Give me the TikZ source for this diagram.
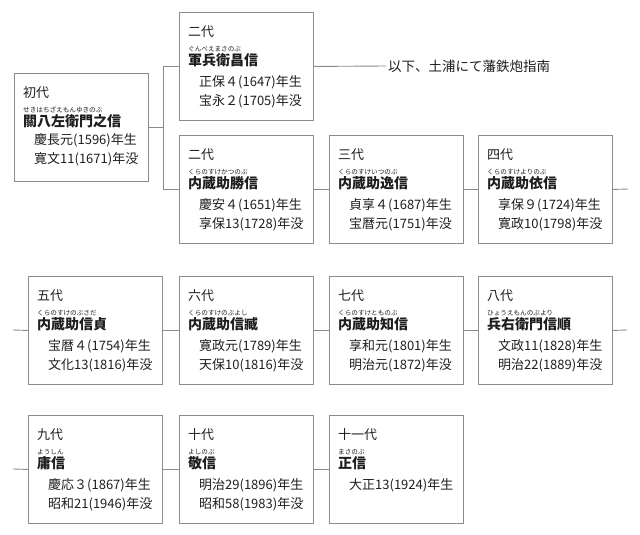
\documentclass[tikz,border=0pt]{standalone}
\usepackage{fontspec}
\setmainfont{Noto Sans CJK JP}
\definecolor{edge}{HTML}{8C8C8C}
\definecolor{ink}{HTML}{1E1E1E}
\tikzset{
  box/.style={draw=edge, line width=0.9pt, minimum width=134pt, minimum height=108pt, inner sep=0pt, anchor=north west},
  gen/.style={anchor=west, inner sep=0pt, font=\fontsize{13}{15}\selectfont, text=ink},
  ruby/.style={anchor=west, inner sep=0pt, font=\fontsize{6.6}{7}\selectfont, text=ink},
  nm/.style={anchor=west, inner sep=0pt, font=\bfseries\fontsize{14}{16}\selectfont, text=ink},
  dt/.style={anchor=west, inner sep=0pt, font=\fontsize{13}{15}\selectfont, text=ink},
  note/.style={anchor=west, inner sep=2pt, font=\fontsize{13.5}{15}\selectfont, text=ink},
  link/.style={draw=edge, line width=0.9pt},
}
\def\dOffA{70}
\def\dOffB{89}
% #1 name, #2 x, #3 y, #4 generation, #5 ruby, #6 name, #7 born, #8 died
\newcommand\famBox[8]{%
  \node[box] (#1) at (#2,#3) {};
  \node[gen] (#1-g) at ([xshift=9pt,yshift=-20pt]#1.north west) {#4};
  \node[ruby] (#1-r) at ([xshift=9pt,yshift=-37pt]#1.north west) {#5};
  \node[nm] (#1-n) at ([xshift=9pt,yshift=-48pt]#1.north west) {#6};
  \node[dt] (#1-b) at ([xshift=20pt,yshift=-\dOffA pt]#1.north west) {#7};
  \node[dt] (#1-d) at ([xshift=20pt,yshift=-\dOffB pt]#1.north west) {#8};
}
\begin{document}
\begin{tikzpicture}[x=1pt,y=-1pt]
\useasboundingbox (0,0) rectangle (640,535);

{\def\dOffA{67}\def\dOffB{86}%
\famBox{b0}{14}{73}{初代}{せきはちざえもんゆきのぶ}{關八左衛門之信}{慶長元(1596)年生}{寛文11(1671)年没}}
\famBox{b1}{179}{12}{二代}{ぐんべえまさのぶ}{軍兵衛昌信}{正保４(1647)年生}{宝永２(1705)年没}
\famBox{b2}{179}{135}{二代}{くらのすけかつのぶ}{内蔵助勝信}{慶安４(1651)年生}{享保13(1728)年没}
\famBox{b3}{329}{135}{三代}{くらのすけいつのぶ}{内蔵助逸信}{貞享４(1687)年生}{宝暦元(1751)年没}
\famBox{b4}{478}{135}{四代}{くらのすけよりのぶ}{内蔵助依信}{享保９(1724)年生}{寛政10(1798)年没}
\famBox{b5}{28}{276}{五代}{くらのすけのぶさだ}{内蔵助信貞}{宝暦４(1754)年生}{文化13(1816)年没}
\famBox{b6}{179}{276}{六代}{くらのすけのぶよし}{内蔵助信臧}{寛政元(1789)年生}{天保10(1816)年没}
\famBox{b7}{329}{276}{七代}{くらのすけとものぶ}{内蔵助知信}{享和元(1801)年生}{明治元(1872)年没}
\famBox{b8}{478}{276}{八代}{ひょうえもんのぶより}{兵右衛門信順}{文政11(1828)年生}{明治22(1889)年没}
\famBox{b9}{28}{415}{九代}{ようしん}{庸信}{慶応３(1867)年生}{昭和21(1946)年没}
\famBox{b10}{179}{415}{十代}{よしのぶ}{敬信}{明治29(1896)年生}{昭和58(1983)年没}
\famBox{b11}{329}{415}{十一代}{まさのぶ}{正信}{大正13(1924)年生}{}

\node[note] (note) at (386,66) {以下、土浦にて藩鉄炮指南};

% junction after the first generation
\coordinate (jx) at (163,0);
\draw[link] (b0.east) -- (b0.east -| jx);
\draw[link] (jx |- b1.west) -- (jx |- b2.west);
\draw[link] (jx |- b1.west) -- (b1.west);
\draw[link] (jx |- b2.west) -- (b2.west);
\draw[link] (b1.east) -- (note.west);

% row 2
\coordinate (s1) at (628,189);
\draw[link] (b2.east) -- (b3.west);
\draw[link] (b3.east) -- (b4.west);
\draw[link] (b4.east) -- (s1);

% row 3
\coordinate (s2) at (13,330);
\coordinate (s3) at (627,330);
\draw[link] (s2) -- (b5.west);
\draw[link] (b5.east) -- (b6.west);
\draw[link] (b6.east) -- (b7.west);
\draw[link] (b7.east) -- (b8.west);
\draw[link] (b8.east) -- (s3);

% row 4
\coordinate (s4) at (13,469);
\draw[link] (s4) -- (b9.west);
\draw[link] (b9.east) -- (b10.west);
\draw[link] (b10.east) -- (b11.west);
\end{tikzpicture}
\end{document}
